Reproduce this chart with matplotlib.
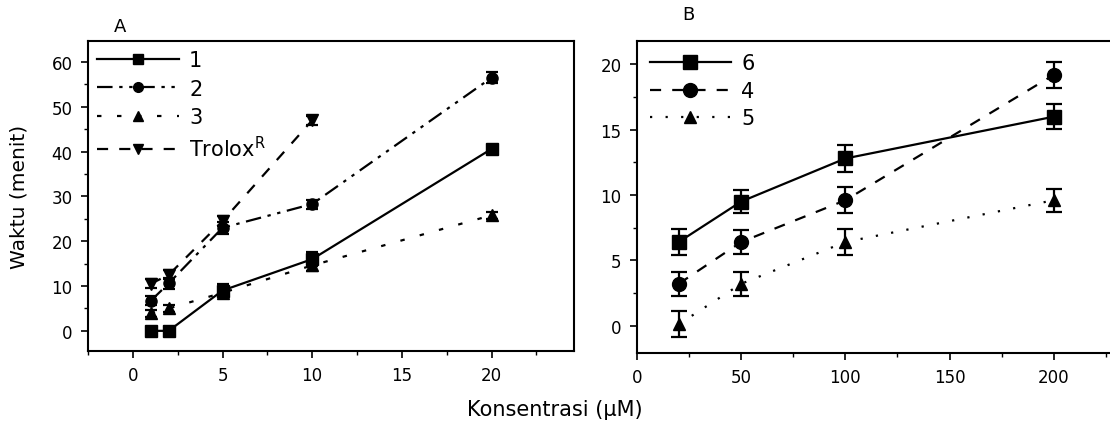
import matplotlib
matplotlib.use("Agg")
import matplotlib.pyplot as plt
from matplotlib.ticker import MultipleLocator
from matplotlib.lines import Line2D

plt.rcParams['font.family'] = ['DejaVu Sans']
plt.rcParams['mathtext.fontset'] = 'dejavusans'

# Panel A data
xa = [1, 2, 5, 10, 20]
xa_trolox = [1, 2, 5, 10]
s1 = [0, 0, 9, 16, 40.6]
s1_err = [0.8, 0.8, 1.5, 1.6, 0.9]
s2 = [6.7, 10.6, 23, 28.3, 56.5]
s2_err = [1.0, 1.2, 1.4, 1.0, 1.2]
s3 = [3.9, 5, 8.5, 14.6, 25.8]
s3_err = [0.8, 0.8, 1.0, 1.2, 0.8]
trolox = [10.5, 12.5, 24.5, 47]
trolox_err = [1.0, 1.0, 1.2, 1.0]
labels_a = ['1', '2', '3', 'Trolox$^{\\mathrm{R}}$']

# Panel B data
xb = [20, 50, 100, 200]
s6 = [6.4, 9.5, 12.8, 16.0]
s6_err = [1.0, 0.9, 1.0, 0.95]
s4 = [3.2, 6.4, 9.6, 19.2]
s4_err = [0.9, 0.9, 1.0, 1.0]
s5 = [0.1, 3.2, 6.4, 9.6]
s5_err = [1.0, 0.9, 1.0, 0.9]
labels_b = ['6', '4', '5']

W, H = 1110, 427
fig = plt.figure(figsize=(W / 100, H / 100), dpi=100)
axA = fig.add_axes([88 / W, 1 - 352 / H, (574 - 88) / W, (352 - 42) / H])
axB = fig.add_axes([637 / W, 1 - 354 / H, (1112 - 637) / W, (354 - 42) / H])

ls1 = '-'
ls2 = (0, (7, 3, 1.5, 3, 1.5, 3))
ls3 = (0, (2, 7))
lsT = (0, (5, 5))
ls6 = '-'
ls4 = (0, (5, 5))
ls5 = (0, (1, 6))

def eb(ax, x, y, e, marker, ls, ms, cap):
    ax.errorbar(x, y, yerr=e, marker=marker, linestyle=ls, color='black',
                ecolor='black', capsize=cap, elinewidth=1.6, capthick=1.6,
                markersize=ms, linewidth=1.6)

eb(axA, xa, s1, s1_err, 's', ls1, 8, 4)
eb(axA, xa, s2, s2_err, 'o', ls2, 8, 4)
eb(axA, xa, s3, s3_err, '^', ls3, 8, 4)
eb(axA, xa_trolox, trolox, trolox_err, 'v', lsT, 8, 4)

eb(axB, xb, s6, s6_err, 's', ls6, 10, 5.5)
eb(axB, xb, s4, s4_err, 'o', ls4, 10, 5.5)
eb(axB, xb, s5, s5_err, '^', ls5, 9, 5.5)

def handle(marker, ls, ms):
    return Line2D([], [], color='black', marker=marker, linestyle=ls,
                  markersize=ms, linewidth=1.6)

hA = [handle('s', ls1, 7), handle('o', ls2, 7), handle('^', ls3, 7), handle('v', lsT, 7)]
hB = [handle('s', ls6, 10), handle('o', ls4, 10), handle('^', ls5, 8)]

axA.legend(hA, labels_a, loc='upper left', frameon=False, fontsize=15,
           handlelength=3.9, labelspacing=0.4, borderaxespad=0.2,
           handletextpad=0.5, borderpad=0.25)
axB.legend(hB, labels_b, loc='upper left', frameon=False, fontsize=15,
           handlelength=3.9, labelspacing=0.35, borderaxespad=0.3,
           handletextpad=0.5, borderpad=0.3)

axA.set_xlim(-2.5, 24.6)
axA.set_ylim(-4.5, 64.7)
axA.xaxis.set_major_locator(MultipleLocator(5))
axA.xaxis.set_minor_locator(MultipleLocator(2.5))
axA.yaxis.set_major_locator(MultipleLocator(10))
axA.yaxis.set_minor_locator(MultipleLocator(5))

axB.set_xlim(0, 228)
axB.set_ylim(-2.1, 21.8)
axB.xaxis.set_major_locator(MultipleLocator(50))
axB.xaxis.set_minor_locator(MultipleLocator(25))
axB.yaxis.set_major_locator(MultipleLocator(5))
axB.yaxis.set_minor_locator(MultipleLocator(2.5))

for ax in (axA, axB):
    ax.tick_params(which='major', direction='out', length=5, width=1.2,
                   labelsize=12, pad=6)
    ax.tick_params(which='minor', direction='out', length=3, width=1.0)
    for sp in ax.spines.values():
        sp.set_linewidth(1.5)

axA.set_ylabel('Waktu (menit)', fontsize=14.5)
axA.yaxis.set_label_coords((29 - 88) / 486, 0.5)
fig.text(555 / W, 1 - 410 / H, 'Konsentrasi (µM)', fontsize=15, ha='center', va='center')
fig.text(114 / W, 1 - 27 / H, 'A', fontsize=13, ha='left', va='center')
fig.text(682 / W, 1 - 15 / H, 'B', fontsize=13, ha='left', va='center')

fig.savefig('out.png', dpi=100)
